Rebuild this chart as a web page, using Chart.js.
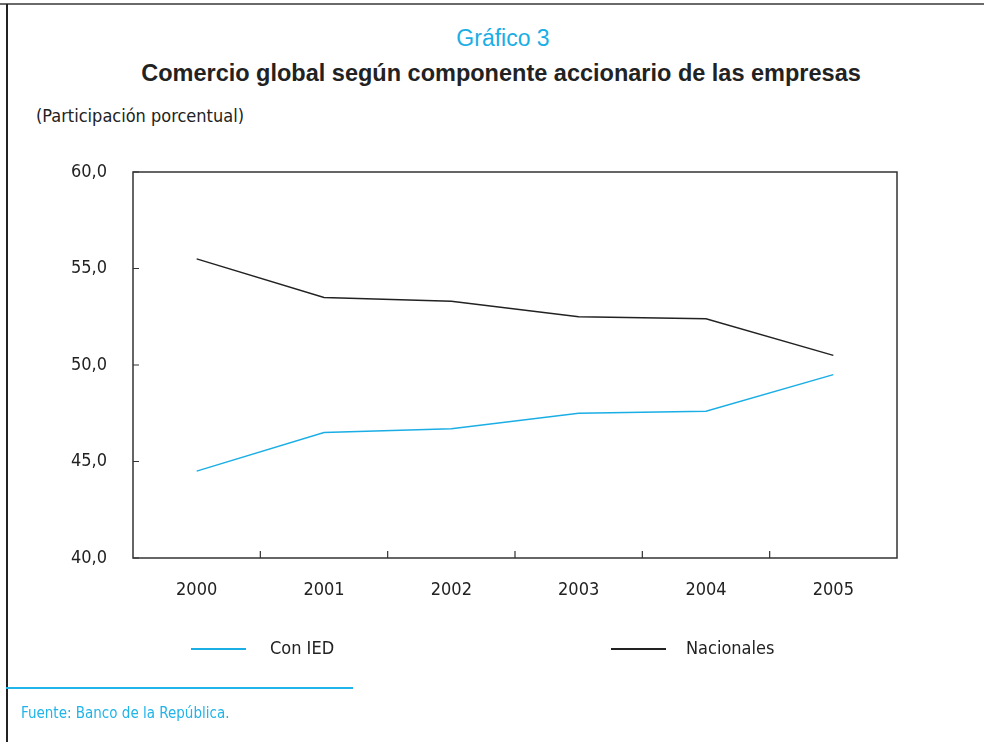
<!DOCTYPE html>
<html lang="es">
<head>
    <meta charset="UTF-8">
    <title>Gráfico 3</title>
    <script src="https://cdn.jsdelivr.net/npm/chart.js"></script>
    <style>
        body {
            margin: 0;
            width: 984px;
            height: 742px;
            background: #fff;
            position: relative;
            overflow: hidden;
            font-family: 'Liberation Sans Narrow', 'DejaVu Sans Condensed', sans-serif;
            color: #222;
        }

        .frame-top {
            position: absolute;
            left: 0;
            top: 3px;
            width: 984px;
            height: 2px;
            background: #6a6a6a;
        }

        .frame-left {
            position: absolute;
            left: 6px;
            top: 4px;
            width: 2px;
            height: 742px;
            background: #222;
        }

        .num {
            position: absolute;
            top: 25px;
            left: 0;
            width: 1006px;
            text-align: center;
            font-family: 'Liberation Sans', Arial, sans-serif;
            font-size: 23px;
            color: #1aaee5;
        }

        .title {
            position: absolute;
            top: 60px;
            left: 0;
            width: 1002px;
            text-align: center;
            font-family: 'Liberation Sans', Arial, sans-serif;
            font-weight: bold;
            font-size: 23.5px;
        }

        .units {
            position: absolute;
            top: 105px;
            left: 36px;
            font-size: 18px;
        }

        canvas {
            position: absolute;
            left: 0;
            top: 0;
        }

        .legend {
            position: absolute;
            top: 637px;
            font-size: 18px;
        }

        .legend span.line {
            position: absolute;
            top: 11px;
            width: 55px;
            height: 1.5px;
        }

        .rule {
            position: absolute;
            left: 6px;
            top: 687px;
            width: 347px;
            height: 2px;
            background: #1fb4ea;
        }

        .source {
            position: absolute;
            left: 21px;
            top: 704px;
            font-size: 15px;
            color: #1fb4ea;
        }
    </style>
</head>
<body>
    <div class="frame-top"></div>
    <div class="frame-left"></div>
    <div class="num">Gráfico 3</div>
    <div class="title">Comercio global según componente accionario de las empresas</div>
    <div class="units">(Participación porcentual)</div>
    <canvas id="chart" width="984" height="742"></canvas>
    <div id="legend"></div>
    <div class="rule"></div>
    <div class="source">Fuente: Banco de la República.</div>

    <script>
        const years = ['2000', '2001', '2002', '2003', '2004', '2005'];
        const conIED = [44.5, 46.5, 46.7, 47.5, 47.6, 49.5];
        const nacionales = [55.5, 53.5, 53.3, 52.5, 52.4, 50.5];
        const seriesNames = ['Con IED', 'Nacionales'];
        const seriesColors = ['#1aaee5', '#222222'];
        const yTicks = [40, 45, 50, 55, 60];

        const axisFont = { family: "'Liberation Sans Narrow', 'DejaVu Sans Condensed', sans-serif", size: 18 };

        // frame around plot + inward tick marks
        const framePlugin = {
            id: 'frame',
            afterDraw(chart) {
                const { ctx, chartArea: a, scales } = chart;
                ctx.save();
                ctx.strokeStyle = '#333';
                ctx.lineWidth = 1.5;
                ctx.strokeRect(a.left, a.top, a.right - a.left, a.bottom - a.top);
                ctx.lineWidth = 1.2;
                ctx.beginPath();
                yTicks.forEach(v => {
                    const y = scales.y.getPixelForValue(v);
                    ctx.moveTo(a.left, y);
                    ctx.lineTo(a.left + 6, y);
                });
                for (let i = 0; i < years.length - 1; i++) {
                    const x = (scales.x.getPixelForTick(i) + scales.x.getPixelForTick(i + 1)) / 2;
                    ctx.moveTo(x, a.bottom);
                    ctx.lineTo(x, a.bottom - 7);
                }
                ctx.stroke();
                ctx.restore();
            }
        };

        const chart = new Chart(document.getElementById('chart'), {
            type: 'line',
            data: {
                labels: years,
                datasets: [
                    { label: seriesNames[0], data: conIED, borderColor: seriesColors[0], borderWidth: 1.5, pointRadius: 0, tension: 0 },
                    { label: seriesNames[1], data: nacionales, borderColor: seriesColors[1], borderWidth: 1.5, pointRadius: 0, tension: 0 }
                ]
            },
            options: {
                responsive: false,
                animation: false,
                layout: { padding: { left: 0, top: 172, right: 87, bottom: 144 } },
                plugins: { legend: { display: false }, tooltip: { enabled: false } },
                scales: {
                    x: {
                        offset: true,
                        grid: { display: false, drawTicks: false },
                        border: { display: false },
                        ticks: { color: '#222', font: axisFont, padding: 22 },
                        afterFit(s) { s.height = 40; }
                    },
                    y: {
                        min: 40,
                        max: 60,
                        grid: { display: false, drawTicks: false },
                        border: { display: false },
                        afterBuildTicks(s) { s.ticks = yTicks.map(v => ({ value: v })); },
                        ticks: {
                            color: '#222',
                            font: axisFont,
                            padding: 26,
                            callback: v => v.toFixed(1).replace('.', ',')
                        },
                        afterFit(s) { s.width = 133; }
                    }
                }
            },
            plugins: [framePlugin]
        });

        // legend built from the datasets
        const legendPos = [[191, 270], [611, 686]];
        const legendEl = document.getElementById('legend');
        chart.data.datasets.forEach((ds, i) => {
            const item = document.createElement('div');
            item.className = 'legend';
            item.style.left = legendPos[i][0] + 'px';
            item.innerHTML = '<span class="line" style="left:0;background:' + ds.borderColor + '"></span>' +
                '<span style="position:absolute;left:' + (legendPos[i][1] - legendPos[i][0]) + 'px;white-space:nowrap">' + ds.label + '</span>';
            legendEl.appendChild(item);
        });
    </script>
</body>
</html>
